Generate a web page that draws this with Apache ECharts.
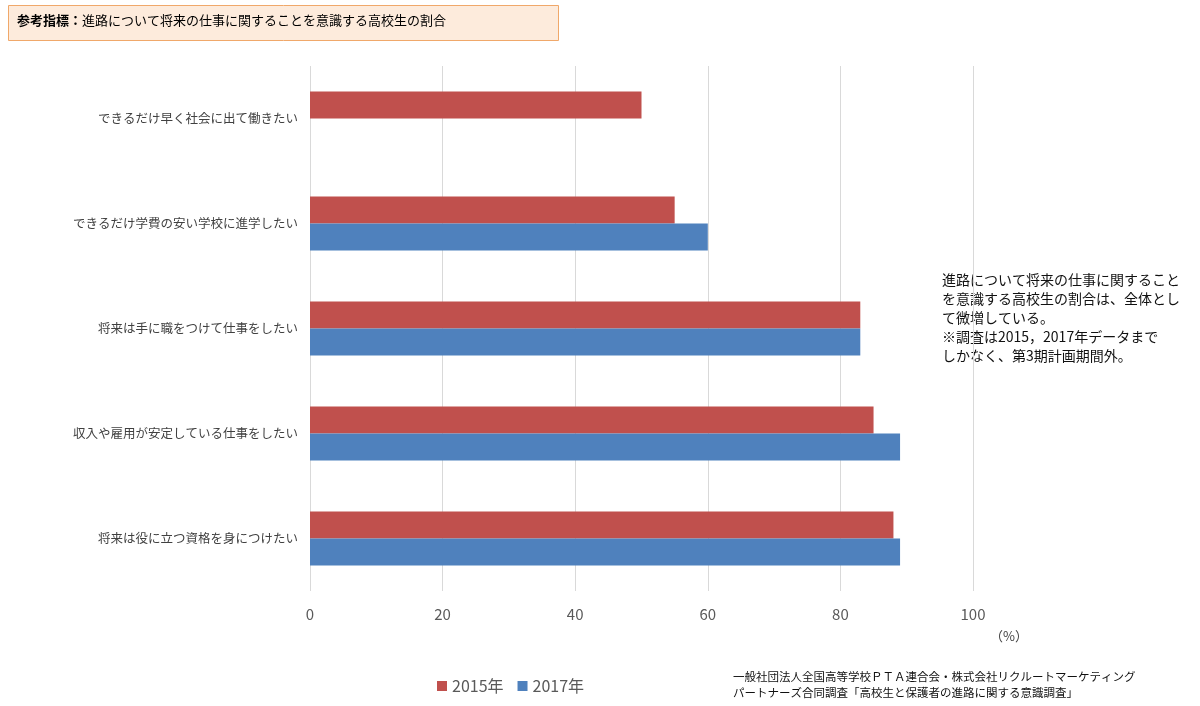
<!DOCTYPE html>
<html><head><meta charset="utf-8">
<script src="https://cdn.jsdelivr.net/npm/echarts@6/dist/echarts.min.js"></script>
<style>html,body{margin:0;padding:0;background:#fff}#c{width:1200px;height:706px}</style>
</head><body><div id="c"></div>
<script>
var categories = [
  'できるだけ早く社会に出て働きたい',
  'できるだけ学費の安い学校に進学したい',
  '将来は手に職をつけて仕事をしたい',
  '収入や雇用が安定している仕事をしたい',
  '将来は役に立つ資格を身につけたい'
];
var series2015 = [50, 55, 83, 85, 88];
var series2017 = [null, 60, 83, 89, 89];
var xTicks = [0, 20, 40, 60, 80, 100];
var seriesNames = ['2015年', '2017年'];

var FONT = '"Noto Sans CJK JP", "Noto Sans", sans-serif';
var chart = echarts.init(document.getElementById('c'));
chart.setOption({
  animation: false,
  textStyle: { fontFamily: FONT },
  grid: { left: 310, right: 227, top: 66, bottom: 115, containLabel: false },
  xAxis: {
    type: 'value', min: xTicks[0], max: xTicks[xTicks.length - 1], interval: 20,
    axisLine: { show: false }, axisTick: { show: false },
    splitLine: { show: true, lineStyle: { color: '#d9d9d9', width: 1 } },
    axisLabel: { color: '#595959', fontSize: 15, margin: 16, fontFamily: FONT }
  },
  yAxis: {
    type: 'category', data: categories, inverse: true,
    axisLine: { show: false }, axisTick: { show: false },
    axisLabel: { color: '#404040', fontSize: 12.5, margin: 12, fontFamily: FONT }
  },
  legend: {
    data: seriesNames, left: 432, top: 673, itemWidth: 10, itemHeight: 10, itemGap: 14,
    icon: 'rect', textStyle: { color: '#595959', fontSize: 16, fontFamily: FONT }
  },
  series: [
    { name: seriesNames[0], type: 'bar', data: series2015, barWidth: 27, barGap: '0%',
      itemStyle: { color: '#c0504d' } },
    { name: seriesNames[1], type: 'bar', data: series2017, barWidth: 27, barGap: '0%',
      itemStyle: { color: '#4f81bd' } }
  ],
  graphic: [
    { type: 'rect', shape: { x: 8.5, y: 5.5, width: 550, height: 35 },
      style: { fill: '#fdebdc', stroke: '#f0a86a', lineWidth: 1 } },
    { type: 'text', left: 17, top: 14,
      style: { text: '{b|参考指標：}{n|進路について将来の仕事に関することを意識する高校生の割合}',
        rich: {
          b: { fontWeight: 'bold', fontSize: 13, fill: '#000', fontFamily: FONT },
          n: { fontSize: 13, fill: '#000', fontFamily: FONT }
        } } },
    { type: 'text', left: 990, top: 630,
      style: { text: '（%）', fontSize: 13, fill: '#404040', fontFamily: FONT } },
    { type: 'text', left: 942, top: 270,
      style: { text: '進路について将来の仕事に関すること\nを意識する高校生の割合は、全体とし\nて微増している。\n※調査は2015，2017年データまで\nしかなく、第3期計画期間外。',
        fontSize: 14, lineHeight: 19, fill: '#111', fontFamily: FONT } },
    { type: 'text', left: 733, top: 669,
      style: { text: '一般社団法人全国高等学校ＰＴＡ連合会・株式会社リクルートマーケティング\nパートナーズ合同調査「高校生と保護者の進路に関する意識調査」',
        fontSize: 11.5, lineHeight: 16, fill: '#111', fontFamily: FONT } }
  ]
});
</script></body></html>
